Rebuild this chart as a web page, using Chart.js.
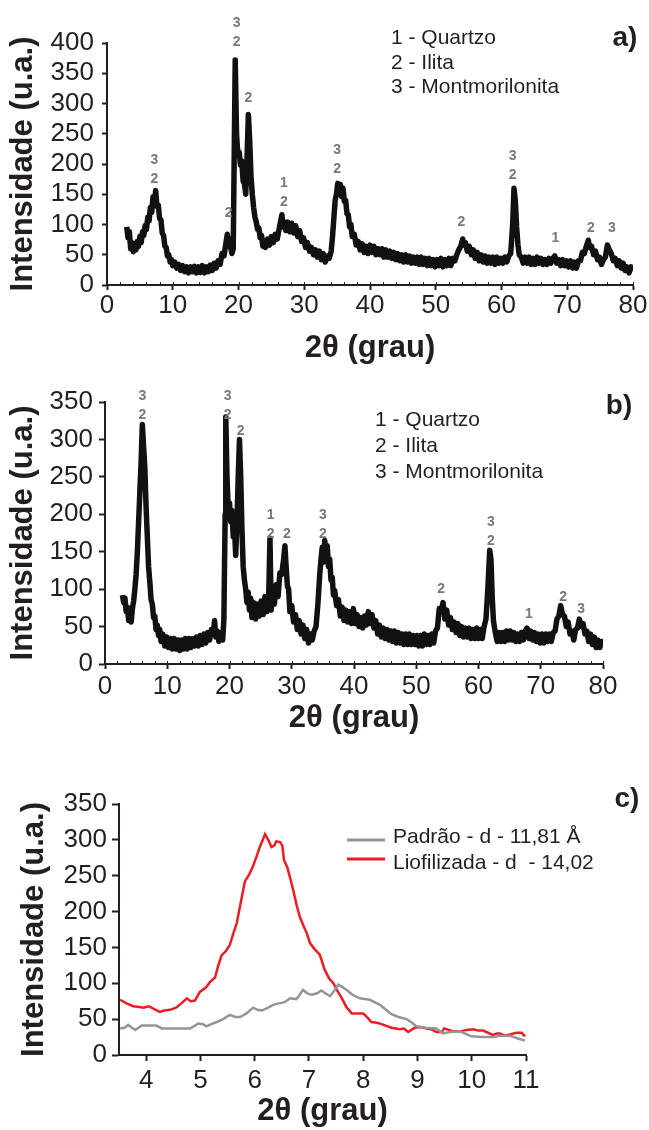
<!DOCTYPE html>
<html>
<head>
<meta charset="utf-8">
<script src="https://cdn.jsdelivr.net/npm/chart.js@4.4.1/dist/chart.umd.min.js"></script>
<style>
  body { margin: 0; background: #fff; }
  canvas { display: block; }
</style>
</head>
<body>
<canvas id="ca" width="649" height="370"></canvas>
<canvas id="cb" width="649" height="370"></canvas>
<canvas id="cc" width="649" height="390"></canvas>
<script>
// a) difratograma - pontos [2theta, intensidade]
const scanA = [[3.0,96],[3.2,78],[3.4,88],[3.6,60],[3.8,70],[4.0,55],[4.2,68],[4.4,58],[4.6,72],[4.8,64],[5.0,80],[5.2,70],[5.4,88],[5.6,82],[5.8,98],[6.0,92],[6.2,112],[6.4,106],[6.6,128],[6.8,120],[7.0,146],[7.2,134],[7.4,156],[7.6,130],[7.8,132],[8.0,110],[8.2,108],[8.4,86],[8.6,82],[8.8,64],[9.0,62],[9.2,48],[9.4,50],[9.6,38],[9.8,42],[10.0,32],[10.3,38],[10.6,28],[10.9,34],[11.2,24],[11.5,32],[11.8,22],[12.1,30],[12.4,20],[12.7,30],[13.0,22],[13.3,31],[13.6,20],[13.9,30],[14.2,21],[14.5,32],[14.8,20],[15.1,30],[15.4,22],[15.7,33],[16.0,24],[16.3,36],[16.6,28],[16.9,40],[17.2,34],[17.5,52],[17.8,48],[18.1,70],[18.3,84],[18.5,70],[18.8,62],[19.0,52],[19.2,60],[19.5,372],[19.7,250],[19.9,215],[20.1,220],[20.3,198],[20.5,205],[20.7,172],[20.9,168],[21.1,150],[21.3,210],[21.5,282],[21.7,240],[21.9,180],[22.1,150],[22.3,128],[22.5,112],[22.7,104],[22.9,92],[23.1,94],[23.3,78],[23.5,82],[23.7,64],[23.9,72],[24.1,62],[24.4,76],[24.7,66],[25.0,80],[25.3,70],[25.6,84],[25.9,76],[26.2,94],[26.6,116],[26.8,96],[27.0,104],[27.2,90],[27.5,104],[27.8,88],[28.1,102],[28.4,86],[28.7,98],[29.0,80],[29.3,90],[29.6,72],[29.9,78],[30.2,62],[30.5,70],[30.8,56],[31.1,62],[31.4,50],[31.7,58],[32.0,46],[32.3,56],[32.6,42],[32.9,52],[33.2,38],[33.5,48],[33.8,44],[34.1,56],[34.3,80],[34.5,110],[34.7,140],[34.9,150],[35.1,168],[35.3,150],[35.5,166],[35.7,146],[35.9,160],[36.1,138],[36.3,140],[36.5,118],[36.7,116],[36.9,96],[37.1,100],[37.3,80],[37.6,84],[37.9,66],[38.2,72],[38.5,58],[38.8,68],[39.1,54],[39.4,64],[39.7,52],[40.0,66],[40.3,54],[40.6,64],[40.9,50],[41.2,60],[41.5,50],[41.8,60],[42.1,46],[42.4,58],[42.7,46],[43.0,56],[43.3,44],[43.6,54],[43.9,42],[44.2,52],[44.5,40],[44.8,50],[45.1,38],[45.4,50],[45.7,38],[46.0,48],[46.3,36],[46.6,46],[46.9,36],[47.2,46],[47.5,34],[47.8,46],[48.1,34],[48.4,44],[48.7,32],[49.0,44],[49.3,32],[49.6,42],[49.9,30],[50.2,42],[50.5,32],[50.8,44],[51.1,30],[51.4,42],[51.7,32],[52.0,44],[52.3,32],[52.6,44],[52.9,40],[53.2,50],[53.5,58],[53.8,64],[54.1,76],[54.3,66],[54.5,70],[54.8,56],[55.1,64],[55.4,50],[55.7,58],[56.0,44],[56.3,54],[56.6,40],[56.9,50],[57.2,38],[57.5,48],[57.8,36],[58.1,46],[58.4,36],[58.7,46],[59.0,34],[59.3,46],[59.6,36],[59.9,44],[60.2,36],[60.5,46],[60.8,38],[61.1,48],[61.4,52],[61.7,100],[61.9,160],[62.1,140],[62.3,96],[62.5,66],[62.7,50],[63.0,46],[63.3,36],[63.6,46],[63.9,36],[64.2,46],[64.5,34],[64.8,44],[65.1,34],[65.4,46],[65.7,36],[66.0,44],[66.3,34],[66.6,42],[66.9,34],[67.2,44],[67.5,36],[67.8,44],[68.1,48],[68.4,36],[68.7,42],[69.0,32],[69.3,42],[69.6,32],[69.9,40],[70.2,30],[70.5,40],[70.8,28],[71.1,38],[71.4,28],[71.7,40],[72.0,40],[72.3,54],[72.6,52],[72.9,64],[73.2,74],[73.4,62],[73.7,64],[74.0,50],[74.3,56],[74.6,42],[74.9,46],[75.2,34],[75.5,42],[75.8,46],[76.1,66],[76.4,58],[76.7,52],[77.0,40],[77.3,44],[77.6,32],[77.9,40],[78.2,28],[78.5,36],[78.8,24],[79.1,30],[79.4,20],[79.7,30],[80.0,24]];

// b) difratograma
const scanB = [[2.8,92],[3.0,82],[3.2,88],[3.4,70],[3.6,76],[3.8,58],[4.0,68],[4.2,56],[4.4,74],[4.6,84],[4.8,100],[5.0,120],[5.2,150],[5.4,190],[5.6,230],[5.8,270],[6.0,320],[6.2,290],[6.4,262],[6.6,210],[6.8,170],[7.0,130],[7.2,110],[7.4,86],[7.6,80],[7.8,62],[8.0,64],[8.2,46],[8.4,52],[8.6,38],[8.8,46],[9.0,30],[9.3,40],[9.6,24],[9.9,36],[10.2,22],[10.5,34],[10.8,20],[11.1,34],[11.4,20],[11.7,32],[12.0,18],[12.3,32],[12.6,20],[12.9,34],[13.2,20],[13.5,34],[13.8,22],[14.1,34],[14.4,24],[14.7,36],[15.0,24],[15.3,38],[15.6,26],[15.9,40],[16.2,28],[16.5,42],[16.8,32],[17.1,46],[17.4,40],[17.6,58],[17.8,36],[18.0,44],[18.3,30],[18.6,42],[18.9,32],[19.1,60],[19.3,200],[19.4,330],[19.6,250],[19.8,205],[20.0,215],[20.2,190],[20.4,205],[20.6,170],[20.8,180],[21.0,145],[21.2,190],[21.4,250],[21.6,300],[21.8,250],[22.0,180],[22.2,130],[22.4,112],[22.6,100],[22.8,82],[23.0,96],[23.2,72],[23.4,88],[23.6,62],[23.9,82],[24.2,60],[24.5,80],[24.8,64],[25.1,84],[25.4,66],[25.7,90],[26.0,70],[26.3,92],[26.5,168],[26.7,72],[26.9,100],[27.2,80],[27.5,106],[27.8,90],[28.1,122],[28.4,120],[28.7,140],[28.9,158],[29.1,130],[29.3,104],[29.5,100],[29.7,70],[30.0,78],[30.3,56],[30.6,66],[30.9,46],[31.2,58],[31.5,40],[31.8,52],[32.1,34],[32.4,46],[32.7,28],[33.0,40],[33.3,32],[33.6,44],[33.9,50],[34.2,80],[34.5,120],[34.7,140],[34.9,156],[35.1,136],[35.3,165],[35.5,145],[35.7,158],[35.9,130],[36.1,140],[36.3,112],[36.5,116],[36.7,92],[36.9,98],[37.2,78],[37.5,86],[37.8,64],[38.1,76],[38.4,58],[38.7,72],[39.0,56],[39.3,70],[39.6,54],[39.9,74],[40.2,54],[40.5,66],[40.8,50],[41.1,62],[41.4,48],[41.7,64],[42.0,52],[42.3,70],[42.6,54],[42.9,66],[43.2,48],[43.5,58],[43.8,40],[44.1,52],[44.4,36],[44.7,48],[45.0,34],[45.3,46],[45.6,32],[45.9,44],[46.2,30],[46.5,44],[46.8,28],[47.1,42],[47.4,28],[47.7,40],[48.0,26],[48.3,40],[48.6,26],[48.9,40],[49.2,26],[49.5,38],[49.8,26],[50.1,38],[50.4,24],[50.7,38],[51.0,24],[51.3,40],[51.6,26],[51.9,38],[52.2,26],[52.5,40],[52.8,28],[53.1,44],[53.4,48],[53.7,74],[54.0,70],[54.3,82],[54.6,60],[54.9,72],[55.2,52],[55.5,62],[55.8,46],[56.1,56],[56.4,42],[56.7,54],[57.0,38],[57.3,50],[57.6,36],[57.9,48],[58.2,36],[58.5,48],[58.8,34],[59.1,46],[59.4,34],[59.7,48],[60.0,34],[60.3,46],[60.6,34],[60.9,50],[61.2,60],[61.5,100],[61.8,152],[62.0,140],[62.2,90],[62.4,58],[62.7,42],[63.0,30],[63.3,42],[63.6,30],[63.9,42],[64.2,30],[64.5,44],[64.8,32],[65.1,44],[65.4,32],[65.7,42],[66.0,30],[66.3,40],[66.6,30],[66.9,42],[67.2,32],[67.5,44],[67.8,48],[68.1,34],[68.4,44],[68.7,32],[69.0,42],[69.3,30],[69.6,40],[69.9,28],[70.2,40],[70.5,28],[70.8,40],[71.1,30],[71.4,40],[71.7,30],[72.0,42],[72.3,44],[72.6,60],[72.9,64],[73.2,78],[73.5,66],[73.8,64],[74.1,50],[74.4,56],[74.7,40],[75.0,44],[75.3,32],[75.6,46],[75.9,48],[76.2,60],[76.5,50],[76.8,54],[77.1,40],[77.4,44],[77.7,30],[78.0,40],[78.3,26],[78.6,36],[78.9,22],[79.2,32],[79.5,22],[79.8,30],[80.0,24]];

// c) detalhe 3.5 - 11 graus
const padrao = [[3.52,37],[3.6,38],[3.67,42],[3.74,38],[3.8,35],[3.86,38],[3.92,41],[4.05,41],[4.19,41],[4.29,37],[4.5,37],[4.7,37],[4.81,37],[4.9,41],[4.96,44],[5.05,43],[5.11,40],[5.2,43],[5.3,46],[5.42,50],[5.54,56],[5.64,53],[5.73,53],[5.85,58],[5.97,66],[6.05,63],[6.13,62],[6.25,66],[6.34,70],[6.44,72],[6.53,73],[6.6,76],[6.65,79],[6.77,78],[6.83,84],[6.89,91],[6.97,86],[7.05,84],[7.15,86],[7.23,90],[7.3,86],[7.39,82],[7.47,90],[7.54,98],[7.61,95],[7.69,91],[7.8,84],[7.94,79],[8.12,77],[8.2,74],[8.31,70],[8.42,63],[8.52,57],[8.65,53],[8.8,50],[8.9,45],[8.98,40],[9.15,38],[9.35,37],[9.47,30],[9.6,32],[9.78,33],[9.9,29],[9.99,26],[10.2,25],[10.39,25],[10.55,27],[10.7,27],[10.85,23],[10.98,20]];
const liofilizada = [[3.52,77],[3.64,72],[3.76,68],[3.88,67],[3.95,66],[4.05,68],[4.15,64],[4.25,60],[4.33,62],[4.44,63],[4.55,66],[4.65,72],[4.75,79],[4.82,75],[4.9,76],[4.99,88],[5.1,94],[5.18,102],[5.27,108],[5.33,125],[5.39,139],[5.47,145],[5.54,153],[5.6,168],[5.67,184],[5.75,215],[5.82,242],[5.9,252],[5.97,263],[6.04,278],[6.1,291],[6.15,300],[6.19,308],[6.25,300],[6.31,290],[6.36,292],[6.4,298],[6.47,297],[6.51,292],[6.54,272],[6.6,262],[6.66,245],[6.71,230],[6.77,210],[6.83,193],[6.9,180],[6.96,170],[7.02,156],[7.1,148],[7.2,140],[7.29,119],[7.37,107],[7.45,100],[7.52,90],[7.6,80],[7.69,67],[7.79,58],[8.0,58],[8.08,52],[8.15,46],[8.25,45],[8.34,43],[8.45,40],[8.52,38],[8.67,36],[8.75,37],[8.83,32],[8.95,38],[9.05,39],[9.17,37],[9.25,36],[9.35,32],[9.45,32],[9.49,37],[9.58,35],[9.66,33],[9.8,33],[9.9,35],[10.03,36],[10.12,34],[10.21,34],[10.3,31],[10.39,28],[10.46,30],[10.52,30],[10.61,27],[10.72,29],[10.82,31],[10.92,31],[10.98,26]];

// marcas dos eixos
const ticksX_ab = [0, 10, 20, 30, 40, 50, 60, 70, 80];
const ticksX_c = [4, 5, 6, 7, 8, 9, 10, 11];

// picos identificados (posicao, altura do rotulo, fases)
const picosA_x = [7.2, 18.5, 19.7, 21.5, 26.9, 35.0, 53.9, 61.7, 68.2, 73.6, 76.8];
const picosA_y = [175, 119, 402, 309, 137, 192, 104, 182, 77, 94, 94];
const picosA_t = ['3/2', '2', '3/2', '2', '1/2', '3/2', '2', '3/2', '1', '2', '3'];
const picosB_x = [6.0, 19.7, 21.8, 26.6, 29.2, 35.0, 54.0, 62.0, 68.1, 73.6, 76.5];
const picosB_y = [333, 333, 311, 173, 173, 173, 100, 164, 67, 89, 73];
const picosB_t = ['3/2', '3/2', '2', '1/2', '2', '3/2', '2', '3/2', '1', '2', '3'];

const fases = ['1 - Quartzo', '2 - Ilita', '3 - Montmorilonita'];
const seriesC = ['Padrão - d - 11,81 Å', 'Liofilizada - d  - 14,02'];

const INK = '#231f20';
const FAM = '"Liberation Sans", Arial, Helvetica, sans-serif';

// rotulos dos picos (numeros cinza)
const peakMarks = {
    id: 'peakMarks',
    afterDatasetsDraw(chart, args, opts) {
        if (!opts.xs) return;
        const { ctx, scales: { x, y } } = chart;
        ctx.save();
        ctx.font = 'bold 14px ' + FAM;
        ctx.fillStyle = '#77787b';
        ctx.textAlign = 'center';
        ctx.textBaseline = 'middle';
        opts.xs.forEach((v, i) => {
            const px = x.getPixelForValue(v);
            const py = y.getPixelForValue(opts.ys[i]);
            opts.labels[i].split('/').reverse().forEach((t, k) => ctx.fillText(t, px, py - k * 19));
        });
        ctx.restore();
    }
};

// textos soltos: legenda das fases, letra do painel
const looseText = {
    id: 'looseText',
    afterDraw(chart, args, opts) {
        if (!opts.items) return;
        const ctx = chart.ctx;
        ctx.save();
        ctx.textBaseline = 'middle';
        opts.items.forEach(it => {
            ctx.font = it.font;
            ctx.fillStyle = INK;
            ctx.textAlign = it.align || 'left';
            ctx.fillText(it.text, it.x, it.y);
        });
        ctx.restore();
    }
};

// legenda com linha (painel c)
const lineLegend = {
    id: 'lineLegend',
    afterDraw(chart, args, opts) {
        if (!opts.x) return;
        const ctx = chart.ctx;
        ctx.save();
        chart.data.datasets.forEach((ds, i) => {
            const ly = opts.lineY[i];
            ctx.strokeStyle = ds.borderColor;
            ctx.lineWidth = 3;
            ctx.beginPath();
            ctx.moveTo(opts.x, ly);
            ctx.lineTo(opts.x + 38, ly);
            ctx.stroke();
            ctx.font = '21px ' + FAM;
            ctx.fillStyle = INK;
            ctx.textBaseline = 'middle';
            ctx.fillText(ds.label, opts.x + 46, opts.textY[i]);
        });
        ctx.restore();
    }
};

// pequenos tracos no eixo x
const minorTicks = {
    id: 'minorTicks',
    afterDraw(chart, args, opts) {
        if (!opts.step) return;
        const { ctx, scales: { x }, chartArea } = chart;
        ctx.save();
        ctx.strokeStyle = INK;
        ctx.lineWidth = 1;
        for (let v = x.min; v <= x.max; v += opts.step) {
            const px = Math.round(x.getPixelForValue(v)) + 0.5;
            ctx.beginPath();
            ctx.moveTo(px, chartArea.bottom);
            ctx.lineTo(px, chartArea.bottom - 3);
            ctx.stroke();
        }
        ctx.restore();
    }
};

Chart.register(peakMarks, looseText, lineLegend, minorTicks);

function eixoY(max, width, tickLen, pad, titlePad) {
    return {
        type: 'linear', min: 0, max: max,
        ticks: { stepSize: 50, autoSkip: false, font: { family: FAM, size: 26 }, color: INK, padding: pad },
        grid: { drawOnChartArea: false, tickLength: tickLen, tickWidth: 2, tickColor: INK },
        border: { color: INK, width: 2 },
        title: { display: true, text: 'Intensidade (u.a.)', color: INK, font: { family: FAM, size: 31, weight: 'bold' }, padding: { top: titlePad, bottom: 0 } },
        afterFit: s => { s.width = width; }
    };
}

function eixoX(min, max, marcas, height, tickLen, pad, titlePad) {
    return {
        type: 'linear', min: min, max: max,
        ticks: { autoSkip: false, font: { family: FAM, size: 26 }, color: INK, padding: pad, maxRotation: 0 },
        grid: { drawOnChartArea: false, tickLength: tickLen, tickWidth: 2, tickColor: INK },
        border: { color: INK, width: 2 },
        title: { display: true, text: '2θ (grau)', color: INK, font: { family: FAM, size: 31, weight: 'bold' }, padding: { top: 0, bottom: titlePad } },
        afterBuildTicks: s => { s.ticks = marcas.map(v => ({ value: v })); },
        afterFit: s => { s.height = height; }
    };
}

const toXY = arr => arr.map(p => ({ x: p[0], y: p[1] }));

const base = {
    responsive: false,
    animation: false,
    events: []
};

const traco = { borderColor: '#111', borderWidth: 5.5, pointRadius: 0, borderJoinStyle: 'round' };

// --- a) ---
new Chart(document.getElementById('ca'), {
    type: 'line',
    data: { datasets: [{ data: toXY(scanA), ...traco }] },
    options: {
        ...base,
        layout: { padding: { top: 43, right: 16, left: 0, bottom: 0 } },
        scales: { x: eixoX(0, 80, ticksX_ab, 85, 5, 0, 3.4), y: eixoY(400, 107, 5, 8, 4.4) },
        plugins: {
            legend: { display: false }, tooltip: { enabled: false },
            peakMarks: { xs: picosA_x, ys: picosA_y, labels: picosA_t },
            minorTicks: { step: 2 },
            looseText: { items: [
                { text: fases[0], x: 391, y: 38, font: '21px ' + FAM },
                { text: fases[1], x: 391, y: 63, font: '21px ' + FAM },
                { text: fases[2], x: 391, y: 87, font: '21px ' + FAM },
                { text: 'a)', x: 625, y: 38, font: 'bold 28px ' + FAM, align: 'center' }
            ] }
        }
    }
});

// --- b) ---
new Chart(document.getElementById('cb'), {
    type: 'line',
    data: { datasets: [{ data: toXY(scanB), ...traco }] },
    options: {
        ...base,
        layout: { padding: { top: 32, right: 46, left: 0, bottom: 0 } },
        scales: { x: eixoX(0, 80, ticksX_ab, 76, 5, 2, 3.4), y: eixoY(350, 105, 6, 6, 4.8) },
        plugins: {
            legend: { display: false }, tooltip: { enabled: false },
            peakMarks: { xs: picosB_x, ys: picosB_y, labels: picosB_t },
            minorTicks: { step: 2 },
            looseText: { items: [
                { text: fases[0], x: 375, y: 50, font: '21px ' + FAM },
                { text: fases[1], x: 375, y: 76, font: '21px ' + FAM },
                { text: fases[2], x: 375, y: 102, font: '21px ' + FAM },
                { text: 'b)', x: 619, y: 36, font: 'bold 28px ' + FAM, align: 'center' }
            ] }
        }
    }
});

// --- c) ---
new Chart(document.getElementById('cc'), {
    type: 'line',
    data: { datasets: [
        { label: seriesC[0], data: toXY(padrao), borderColor: '#939598', borderWidth: 2.5, pointRadius: 0 },
        { label: seriesC[1], data: toXY(liofilizada), borderColor: '#ed1c24', borderWidth: 2.5, pointRadius: 0 }
    ] },
    options: {
        ...base,
        layout: { padding: { top: 64, right: 123, left: 0, bottom: 0 } },
        scales: { x: eixoX(3.5, 11, ticksX_c, 75, 6, 4, 0), y: eixoY(350, 119, 7, 5, 15.4) },
        plugins: {
            legend: { display: false }, tooltip: { enabled: false },
            lineLegend: { x: 347, lineY: [100, 119], textY: [97, 123] },
            looseText: { items: [
                { text: 'c)', x: 627, y: 59, font: 'bold 28px ' + FAM, align: 'center' }
            ] }
        }
    }
});
</script>
</body>
</html>
